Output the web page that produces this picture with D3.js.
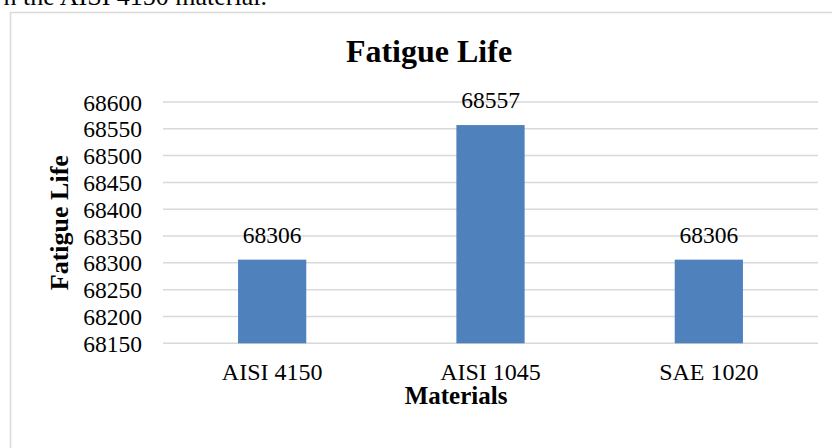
<!DOCTYPE html>
<html><head><meta charset="utf-8">
<script src="https://cdn.jsdelivr.net/npm/d3@7"></script>
<style>
html,body{margin:0;padding:0;background:#fff;overflow:hidden;}
svg{display:block;font-family:"Liberation Serif","Times New Roman",serif;}
</style></head>
<body>
<svg id="chart" width="832" height="448"></svg>
<script>
const categories = ["AISI 4150", "AISI 1045", "SAE 1020"];
const fatigueLife = [68306, 68557, 68306];
const yTicks = [68150, 68200, 68250, 68300, 68350, 68400, 68450, 68500, 68550, 68600];
const chartTitle = "Fatigue Life";
const xTitle = "Materials";
const yTitle = "Fatigue Life";
const captionFragment = "n the AISI 4150 material.";

const FONT = '"Liberation Serif","Times New Roman",serif';
const svg = d3.select("#chart");
const plot = {left: 163, right: 818, top: 102, bottom: 343.3};

// caption fragment above the chart frame
svg.append("text").attr("x", 267).attr("y", 5).attr("text-anchor", "end")
  .attr("font-size", 26).attr("fill", "#000").text(captionFragment);

// chart frame
svg.append("path").attr("d", "M10.5,448 V12.5 H832")
  .attr("fill", "none").attr("stroke", "#d9d9d9").attr("stroke-width", 1.5);

const x = d3.scaleBand().domain(categories).range([plot.left, plot.right])
  .paddingInner(0.6875).paddingOuter(0.34375);
const y = d3.scaleLinear().domain([68150, 68600]).range([plot.bottom, plot.top]);

// gridlines
svg.append("g").selectAll("line").data(yTicks).join("line")
  .attr("x1", plot.left).attr("x2", plot.right)
  .attr("y1", d => y(d)).attr("y2", d => y(d))
  .attr("stroke", "#d9d9d9").attr("stroke-width", 1.5);

// y axis labels
const yAxis = d3.axisLeft(y).tickValues(yTicks).tickSize(0).tickPadding(0).tickFormat(d3.format("d"));
const gy = svg.append("g").attr("transform", `translate(142,0)`).call(yAxis)
  .attr("font-family", FONT).attr("font-size", 23.5);
gy.select(".domain").remove();
gy.selectAll("text").attr("fill", "#000").attr("dy", "0.34em");

// bars
svg.append("g").selectAll("rect").data(categories).join("rect")
  .attr("x", d => x(d)).attr("width", x.bandwidth())
  .attr("y", (d, i) => y(fatigueLife[i]))
  .attr("height", (d, i) => y(68150) - y(fatigueLife[i]))
  .attr("fill", "#4f81bd");

// data labels
svg.append("g").selectAll("text").data(categories).join("text")
  .attr("x", d => x(d) + x.bandwidth() / 2)
  .attr("y", (d, i) => y(fatigueLife[i]) - 17)
  .attr("text-anchor", "middle").attr("font-size", 23.5).attr("fill", "#000")
  .text((d, i) => fatigueLife[i]);

// x axis labels
const xAxis = d3.axisBottom(x).tickSize(0).tickPadding(0);
const gx = svg.append("g").attr("transform", `translate(0,${plot.bottom})`).call(xAxis)
  .attr("font-family", FONT).attr("font-size", 24);
gx.select(".domain").remove();
gx.selectAll("text").attr("fill", "#000").attr("y", 37).attr("dy", null);

// titles
svg.append("text").attr("x", 429).attr("y", 62).attr("text-anchor", "middle")
  .attr("font-size", 32).attr("font-weight", "bold").attr("fill", "#000").text(chartTitle);
svg.append("text").attr("x", 456).attr("y", 404).attr("text-anchor", "middle")
  .attr("font-size", 25).attr("font-weight", "bold").attr("fill", "#000").text(xTitle);
svg.append("text").attr("transform", `translate(68,${(plot.top + plot.bottom) / 2}) rotate(-90)`)
  .attr("text-anchor", "middle").attr("font-size", 26).attr("font-weight", "bold").attr("fill", "#000").text(yTitle);
</script>
</body></html>
